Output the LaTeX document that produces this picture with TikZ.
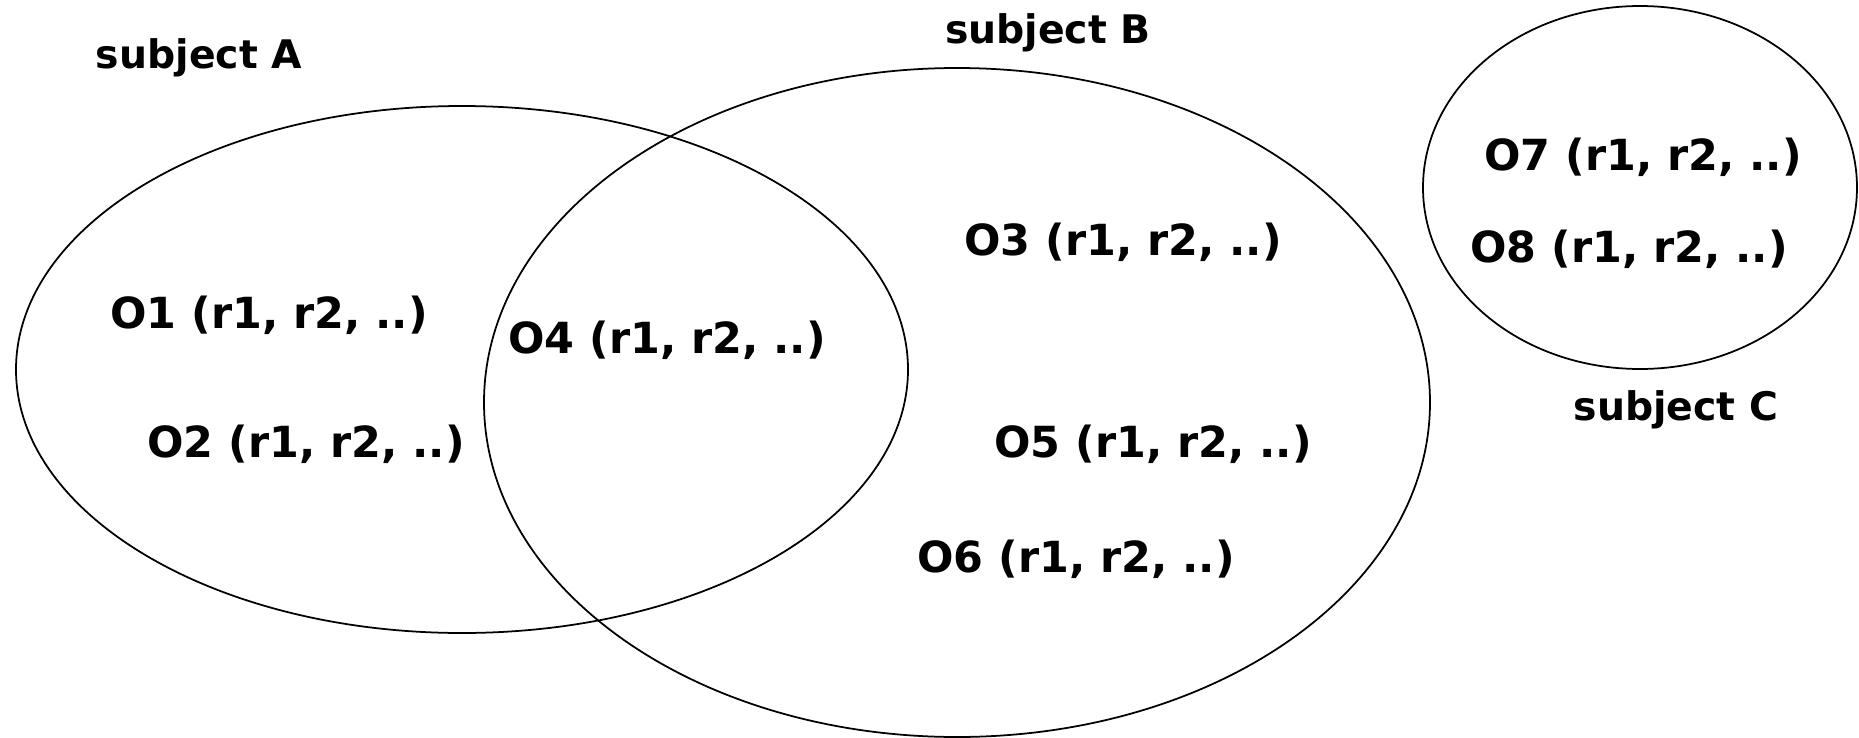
\documentclass[tikz,border=0pt]{standalone}
\usepackage{fontspec}
\setmainfont{DejaVu Sans}
\usetikzlibrary{
    shapes.geometric,
    positioning
}

\tikzset{
    subjset/.style={draw, ellipse, line width=0.5pt, inner sep=0pt},
    objlabel/.style={anchor=base, font=\fontsize{12.2}{14}\selectfont\bfseries},
    subjlabel/.style={objlabel, font=\fontsize{11.2}{14}\selectfont\bfseries},
}

\begin{document}
\begin{tikzpicture}[x=0.1mm, y=-0.1mm]
    \useasboundingbox (0,0) rectangle (1859,738);
    % the three subjects
    \node[subjset, minimum width=89.2mm, minimum height=52.7mm] (setA) at (462,369.5) {};
    \node[subjset, minimum width=94.6mm, minimum height=66.9mm] (setB) at (957,402.5) {};
    \node[subjset, minimum width=43.4mm, minimum height=36.3mm] (setC) at (1640,187.5) {};
    \node[subjlabel] (subjA) at (199,68) {subject A};
    \node[subjlabel] (subjB) at (1048,43) {subject B};
    \node[subjlabel] (subjC) at (1676,420) {subject C};
    % objects with their rights
    \node[objlabel] (o1) at (269,328) {O1 (r1, r2, ..)};
    \node[objlabel] (o2) at (306,457) {O2 (r1, r2, ..)};
    \node[objlabel] (o3) at (1123,255) {O3 (r1, r2, ..)};
    \node[objlabel] (o4) at (667,353) {O4 (r1, r2, ..)};
    \node[objlabel] (o5) at (1153,457) {O5 (r1, r2, ..)};
    \node[objlabel] (o6) at (1076,572) {O6 (r1, r2, ..)};
    \node[objlabel] (o7) at (1643,170) {O7 (r1, r2, ..)};
    \node[objlabel] (o8) at (1629,262) {O8 (r1, r2, ..)};
\end{tikzpicture}
\end{document}
